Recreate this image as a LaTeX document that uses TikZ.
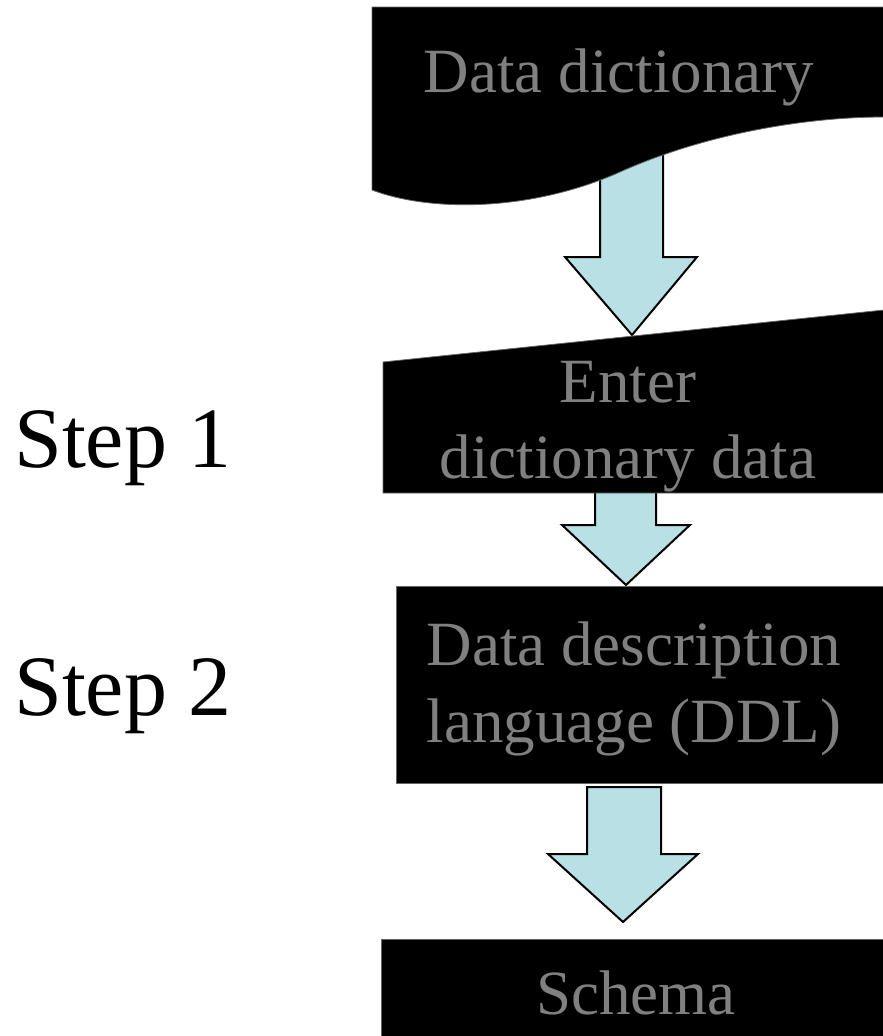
\documentclass[tikz,border=0pt]{standalone}
\usepackage{fontspec}
\setmainfont{Liberation Serif}
\newfontfamily\timesfont{Liberation Serif}
\definecolor{arrowblue}{RGB}{185,224,228}
\definecolor{labelgray}{RGB}{128,128,128}
\begin{document}
\begin{tikzpicture}[x=1pt,y=-1pt,
  boxshape/.style={fill=black,draw=black!60!white,line width=0.8pt},
  blockarrow/.style={fill=arrowblue,draw=black,line width=2pt,line join=miter},
  boxtext/.style={inner sep=0pt,anchor=base,text=labelgray,font=\timesfont\fontsize{63}{76}\selectfont},
  steptext/.style={inner sep=0pt,anchor=base west,text=black,font=\timesfont\fontsize{86}{100}\selectfont}]
\useasboundingbox (0,0) rectangle (883,1036);
\begin{scope}
\clip (0,0) rectangle (883,1036);
% arrow 1 (behind the document shape)
\draw[blockarrow] (600,150) -- (600,257) -- (565,257) -- (632,335) -- (697,257) -- (663,257) -- (663,150) -- cycle;
% document shape
\draw[boxshape] (372,7) -- (884,7) -- (884,117)
  .. controls (800,117) and (700,136) .. (620,172)
  .. controls (530,212) and (430,212) .. (372,190) -- cycle;
% arrow 2
\draw[blockarrow] (595,480) -- (595,525) -- (562,525) -- (626,585) -- (690,525) -- (656,525) -- (656,480) -- cycle;
% manual input shape
\draw[boxshape] (383,362) -- (884,310) -- (884,493) -- (383,493) -- cycle;
% rectangle
\draw[boxshape] (396,586) rectangle (884,783);
% arrow 3
\draw[blockarrow] (587,787) -- (587,854) -- (548,854) -- (623,922) -- (698,854) -- (661,854) -- (661,787) -- cycle;
% schema rectangle
\draw[boxshape] (381,939) rectangle (884,1040);
\end{scope}
% texts
\node[boxtext] (dd) at (619,92) {Data dictionary};
\node[boxtext] (enter1) at (628,402) {Enter};
\node[boxtext] (enter2) at (628,478) {dictionary data};
\node[boxtext] (ddl1) at (634,665) {Data description};
\node[boxtext] (ddl2) at (634,742) {language (DDL)};
\node[boxtext] (schema) at (636,1014) {Schema};
\node[steptext] (step1) at (14,467) {Step 1};
\node[steptext] (step2) at (14,715) {Step 2};
\end{tikzpicture}
\end{document}
